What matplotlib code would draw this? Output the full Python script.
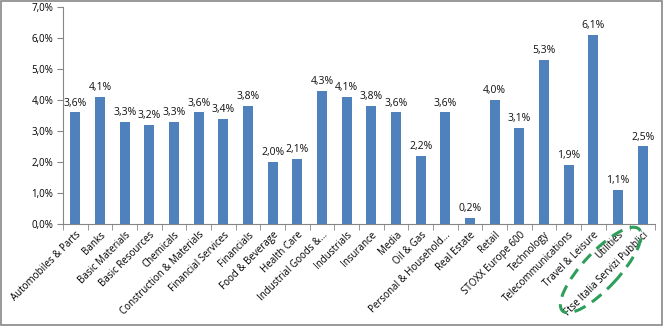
import numpy as np
import matplotlib.pyplot as plt
from matplotlib.patches import Ellipse, Rectangle

# Dividend yield by sector
sectors = [
    "Automobiles & Parts", "Banks", "Basic Materials", "Basic Resources",
    "Chemicals", "Construction & Materials", "Financial Services", "Financials",
    "Food & Beverage", "Health Care", "Industrial Goods &...", "Industrials",
    "Insurance", "Media", "Oil & Gas", "Personal & Household...", "Real Estate",
    "Retail", "STOXX Europe 600", "Technology", "Telecommunications",
    "Travel & Leisure", "Utilities", "Ftse Italia Servizi Pubblici",
]
yields = [3.6, 4.1, 3.3, 3.2, 3.3, 3.6, 3.4, 3.8, 2.0, 2.1, 4.3, 4.1,
          3.8, 3.6, 2.2, 3.6, 0.2, 4.0, 3.1, 5.3, 1.9, 6.1, 1.1, 2.5]
y_ticks = [0, 1, 2, 3, 4, 5, 6, 7]

bar_color = "#4F81BD"
axis_color = "#868686"
font = ["Open Sans", "DejaVu Sans"]
plt.rcParams['font.family'] = font

fig = plt.figure(figsize=(6.63, 3.26), dpi=100)
ax = fig.add_axes([0.095, 0.313, 0.893, 0.666])

x = np.arange(len(sectors))
ax.bar(x, yields, width=0.4, color=bar_color)

for xi, v in zip(x, yields):
    ax.text(xi, v + 0.12, f"{v:.1f}%".replace(".", ","), ha="center", va="bottom",
            fontsize=7.5, color="#111111")

ax.set_xlim(-0.5, len(sectors) - 0.5)
ax.set_ylim(0, 7)
ax.set_yticks(y_ticks)
ax.set_yticklabels([f"{t:.1f}%".replace(".", ",") for t in y_ticks], fontsize=7)

ax.set_xticks(x)
ax.set_xticklabels(sectors, rotation=45, ha="right", rotation_mode="anchor",
                   fontsize=7)
ax.tick_params(axis="x", length=0, pad=4)
ax.set_xticks(np.arange(-0.5, len(sectors)), minor=True)
ax.tick_params(axis="x", which="minor", length=4, color=axis_color)
ax.tick_params(axis="y", length=4, color=axis_color, pad=3)

for s in ["top", "right"]:
    ax.spines[s].set_visible(False)
for s in ["left", "bottom"]:
    ax.spines[s].set_color(axis_color)

# outer border
fig.patches.append(Rectangle((0.002, 0.003), 0.996, 0.994, transform=fig.transFigure,
                             fill=False, edgecolor="#888888", linewidth=1.2))

# highlight ellipse around the last two labels
fig.canvas.draw()
cx_disp = ax.transData.transform((21.3, 0))[0]
cx_in = cx_disp / fig.dpi
ell = Ellipse((cx_in, 0.56), width=1.12, height=0.36, angle=47,
              transform=fig.dpi_scale_trans, fill=False, edgecolor="#2E9E5B",
              linestyle=(0, (4, 2.5)), linewidth=2.2)
fig.patches.append(ell)

fig.savefig("out.png", dpi=100)
